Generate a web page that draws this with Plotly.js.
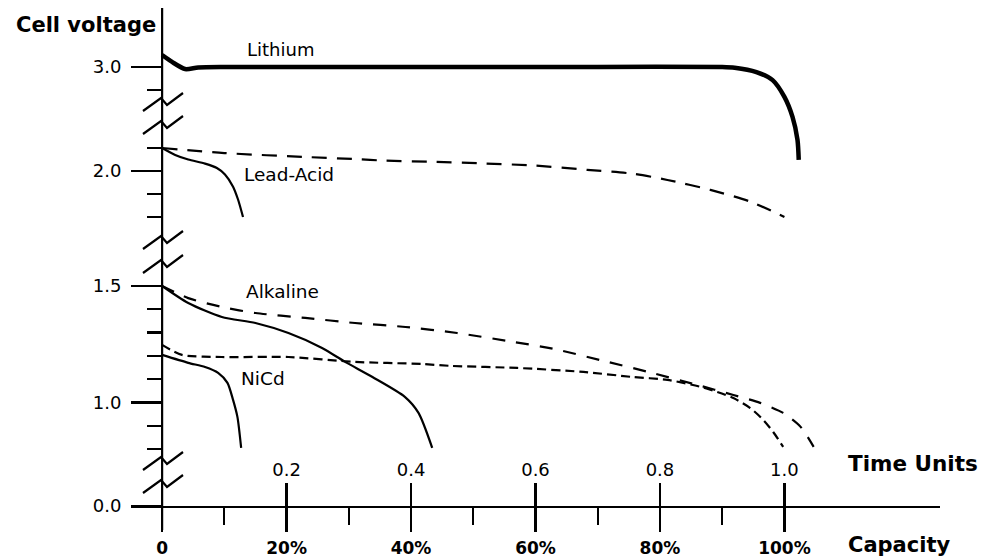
<!DOCTYPE html>
<html>
<head>
<meta charset="utf-8">
<script src="https://cdn.plot.ly/plotly-3.0.1.min.js"></script>
<style>html,body{margin:0;padding:0;background:#fff;}</style>
</head>
<body>
<div id="chart" style="width:985px;height:560px;"></div>
<script>
// ---------------- data (time units, cell voltage) ----------------
const lithiumX = [0, 0.016, 0.037, 0.058, 0.10, 0.30, 0.50, 0.70, 0.90, 0.92, 0.955, 0.981, 1.000, 1.013, 1.021, 1.023];
const lithiumV = [3.052, 3.022, 2.991, 2.998, 3.0, 3.0, 3.0, 3.0, 3.0, 2.997, 2.978, 2.943, 2.870, 2.783, 2.683, 2.596];

const leadAcidHighX = [0, 0.021, 0.042, 0.069, 0.088, 0.101, 0.114, 0.122, 0.130];
const leadAcidHighV = [2.100, 2.070, 2.050, 2.032, 2.013, 1.985, 1.932, 1.876, 1.800];
const leadAcidLowX = [0, 0.10, 0.238, 0.31, 0.358, 0.435, 0.515, 0.596, 0.683, 0.757, 0.812, 0.881, 0.945, 1.000];
const leadAcidLowV = [2.100, 2.078, 2.060, 2.052, 2.045, 2.040, 2.033, 2.024, 2.005, 1.988, 1.961, 1.918, 1.867, 1.800];

const alkalineHighX = [0, 0.042, 0.096, 0.150, 0.203, 0.257, 0.294, 0.338, 0.390, 0.412, 0.434];
const alkalineHighV = [1.500, 1.427, 1.367, 1.341, 1.298, 1.234, 1.174, 1.109, 1.024, 0.955, 0.805];
const alkalineLowX = [0, 0.042, 0.096, 0.150, 0.230, 0.310, 0.391, 0.474, 0.555, 0.629, 0.704, 0.781, 0.860, 0.918, 0.961, 0.998, 1.026, 1.047];
const alkalineLowV = [1.500, 1.448, 1.410, 1.384, 1.363, 1.341, 1.324, 1.298, 1.264, 1.230, 1.182, 1.131, 1.075, 1.032, 0.998, 0.955, 0.895, 0.809];

const nicdHighX = [0, 0.042, 0.069, 0.090, 0.105, 0.114, 0.121, 0.127];
const nicdHighV = [1.204, 1.170, 1.152, 1.127, 1.084, 1.011, 0.938, 0.805];
const nicdLowX = [0, 0.032, 0.096, 0.203, 0.310, 0.418, 0.463, 0.571, 0.677, 0.757, 0.812, 0.865, 0.892, 0.918, 0.945, 0.966, 0.982, 0.998];
const nicdLowV = [1.247, 1.204, 1.195, 1.195, 1.174, 1.165, 1.157, 1.148, 1.131, 1.109, 1.097, 1.067, 1.045, 1.019, 0.976, 0.925, 0.873, 0.809];

const timeTickVals = [0.2, 0.4, 0.6, 0.8, 1.0];
const timeTickText = ['0.2', '0.4', '0.6', '0.8', '1.0'];
const capTickVals = [0, 0.2, 0.4, 0.6, 0.8, 1.0];
const capTickText = ['0', '20%', '40%', '60%', '80%', '100%'];
const capMinorVals = [0.1, 0.3, 0.5, 0.7, 0.9];

const seriesLabels = ['Lithium', 'Lead-Acid', 'Alkaline', 'NiCd'];

// ---------------- layout helpers ----------------
const W = 985, H = 560;
const M = {l: 131, r: 45, t: 8, b: 30};
const PW = W - M.l - M.r, PH = H - M.t - M.b;
const fx = px => (px - M.l) / PW;
const fy = py => (H - M.b - py) / PH;
const FONT = 'DejaVu Sans, sans-serif';
const BLACK = '#000';

function yAxis(domPx, range, majors, majorText, minors) {
  return {
    domain: [fy(domPx[0]), fy(domPx[1])],
    range: range,
    anchor: 'free', position: fx(162),
    showgrid: false, zeroline: false, showline: false,
    ticks: 'outside', ticklen: 31, tickwidth: 2.2, tickcolor: BLACK,
    tickmode: 'array', tickvals: majors, ticktext: majorText,
    tickfont: {family: FONT, size: 18, color: BLACK},
    ticklabelstandoff: 6,
    minor: {ticks: 'outside', ticklen: 15, tickwidth: 2.2, tickcolor: BLACK,
            tickmode: 'array', tickvals: minors, showgrid: false},
    fixedrange: true, automargin: false
  };
}

const line = (x, y, ax, width, dash) => ({
  type: 'scatter', mode: 'lines', x: x, y: y, xaxis: 'x', yaxis: ax,
  line: {color: BLACK, width: width, dash: dash, shape: 'spline', smoothing: 0.7},
  hoverinfo: 'skip', showlegend: false
});

const traces = [
  line(lithiumX, lithiumV, 'y4', 4.5, 'solid'),
  line(leadAcidLowX, leadAcidLowV, 'y3', 2.2, '15px,10px'),
  line(leadAcidHighX, leadAcidHighV, 'y3', 2.2, 'solid'),
  line(alkalineLowX, alkalineLowV, 'y2', 2.2, '13px,11px'),
  line(alkalineHighX, alkalineHighV, 'y2', 2.2, 'solid'),
  line(nicdLowX, nicdLowV, 'y2', 2.2, '9px,5px'),
  line(nicdHighX, nicdHighV, 'y2', 2.2, 'solid')
];

// break marks (zig-zags) on the voltage axis
const breakPeaks = [98, 121, 236, 260, 457, 480];
const shapes = [{
  type: 'line', xref: 'x', yref: 'paper', x0: 0, x1: 0, y0: fy(530), y1: fy(8),
  line: {color: BLACK, width: 2.2}
}];
breakPeaks.forEach(p => {
  const pts = [[143, p + 13], [161, p], [167, p + 7], [183, p - 5]];
  const path = pts.map((q, i) => (i ? 'L' : 'M') + fx(q[0]).toFixed(5) + ',' + fy(q[1]).toFixed(5)).join(' ');
  shapes.push({type: 'path', xref: 'paper', yref: 'paper', path: path, line: {color: BLACK, width: 2.2}});
});

const ann = (text, px, py, size, xanchor, bold) => ({
  text: bold ? '<b>' + text + '</b>' : text, xref: 'paper', yref: 'paper', x: fx(px), y: fy(py),
  xanchor: xanchor || 'center', yanchor: 'middle', showarrow: false,
  font: {family: FONT, size: size, color: BLACK}
});

const annotations = [
  ann('Cell voltage', 86, 25, 21, 'center', true),
  ann(seriesLabels[0], 280, 49, 18),
  ann(seriesLabels[1], 289, 174, 18.5),
  ann(seriesLabels[2], 282, 292, 18.5),
  ann(seriesLabels[3], 263, 378, 18.5),
  ann('Time Units', 846, 463, 21.5, 'left', true),
  ann('Capacity', 846, 545, 21, 'left', true)
];

const layout = {
  width: W, height: H, margin: M,
  paper_bgcolor: '#fff', plot_bgcolor: 'rgba(0,0,0,0)',
  showlegend: false, hovermode: false,
  xaxis: {
    domain: [0, 1], range: [-0.05, 1.25], anchor: 'y',
    showgrid: false, zeroline: false, showline: true, linewidth: 2.2, linecolor: BLACK,
    ticks: 'outside', ticklen: 24, tickwidth: 2.2, tickcolor: BLACK,
    tickmode: 'array', tickvals: capTickVals, ticktext: capTickText.map(t => '<b>' + t + '</b>'),
    tickfont: {family: FONT, size: 17, color: BLACK}, ticklabelstandoff: 1,
    minor: {ticks: 'outside', ticklen: 17, tickwidth: 2.2, tickcolor: BLACK,
            tickmode: 'array', tickvals: capMinorVals, showgrid: false},
    fixedrange: true, automargin: false
  },
  xaxis2: {
    overlaying: 'x', range: [-0.05, 1.25], anchor: 'free', position: fy(506), side: 'top',
    showgrid: false, zeroline: false, showline: false,
    ticks: 'outside', ticklen: 23, tickwidth: 2.2, tickcolor: BLACK,
    tickmode: 'array', tickvals: timeTickVals, ticktext: timeTickText,
    tickfont: {family: FONT, size: 18, color: BLACK}, ticklabelstandoff: 0,
    fixedrange: true, automargin: false
  },
  yaxis: yAxis([506, 490], [0, 16 / 230], [0], ['0.0'], []),
  yaxis2: yAxis([455, 270], [0.8 - 6 / 233, 1.5 + 16 / 233], [1.0, 1.5], ['1.0', '1.5'], [0.8, 0.9, 1.1, 1.2, 1.3, 1.4]),
  yaxis3: yAxis([222, 140], [1.8 - 5 / 230, 2.1 + 8 / 230], [2.0], ['2.0'], [1.8, 1.9, 2.1]),
  yaxis4: yAxis([165, 40], [3.0 - 98 / 230, 3.0 + 27 / 230], [3.0], ['3.0'], [2.9]),
  shapes: shapes,
  annotations: annotations
};

traces.push({type: 'scatter', mode: 'lines', x: [0.5], y: [0.01], xaxis: 'x2', yaxis: 'y',
             line: {color: 'rgba(0,0,0,0)'}, hoverinfo: 'skip', showlegend: false});

Plotly.newPlot('chart', traces, layout, {staticPlot: true, displayModeBar: false});
</script>
</body>
</html>
